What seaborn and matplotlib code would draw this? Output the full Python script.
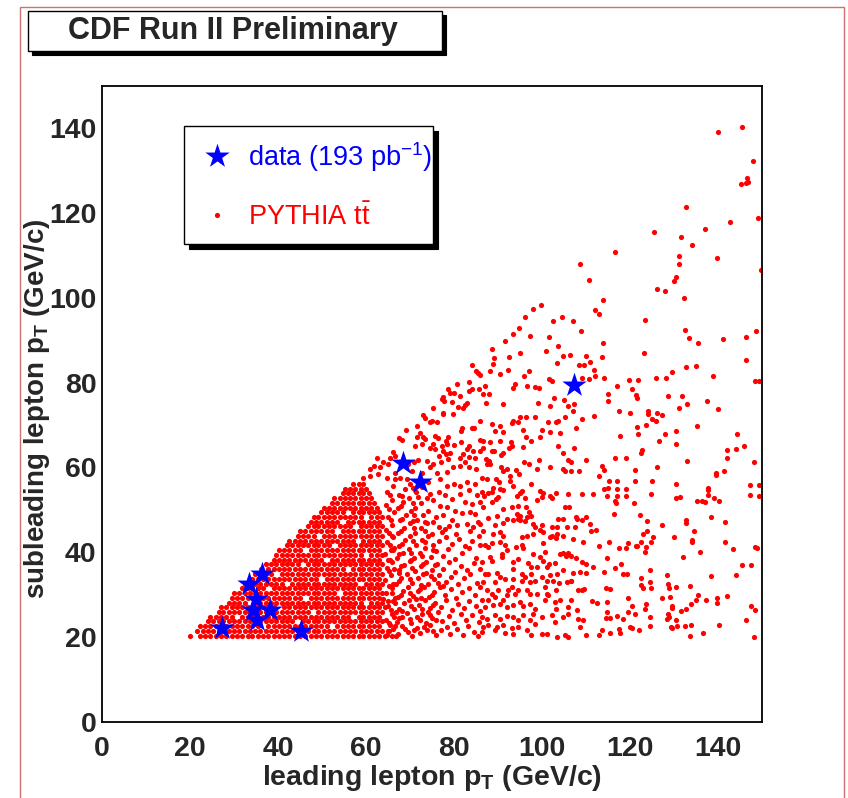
import matplotlib
matplotlib.use("Agg")
import matplotlib.pyplot as plt
from matplotlib.patches import Rectangle
from matplotlib.ticker import MultipleLocator
import seaborn as sns
import pandas as pd

# ---------------- data ----------------
# observed events (blue stars): leading / subleading lepton pT
data_lead = [27.2, 45.2, 33.3, 36.3, 35.0, 34.4, 38.2, 35.2, 68.4, 72.3, 107.3]
data_sub = [22.0, 21.3, 32.6, 34.9, 29.0, 26.3, 26.3, 23.9, 61.1, 56.6, 79.5]

# PYTHIA ttbar: saturated core, one row of leading-pT values per subleading-pT row
core_rows_sub = [20.3, 21.4, 22.5, 23.7, 24.8, 25.9, 27.0, 28.1, 29.3, 30.4, 31.5,
                 32.6, 33.7, 34.9, 36.0, 37.1, 38.2, 39.3, 40.5, 41.6, 42.7, 43.8,
                 44.9, 46.1, 47.2, 48.3, 49.4, 50.5, 51.6, 52.7, 53.9, 55.0, 56.1]
core_rows_lead = [
    [20.0, 22.3, 23.5, 24.6, 25.9, 27.0, 28.2, 29.5, 30.6, 31.8, 33.1, 34.2, 35.4, 36.7, 37.8, 39.0, 40.3, 41.4, 42.6, 43.9, 45.0, 46.2, 47.5, 48.6, 49.8, 51.1, 52.2, 53.4, 54.7, 55.8, 57.0, 58.3, 59.4, 60.6, 61.9, 63.0, 64.3, 65.8],
    [21.6, 22.9, 24.0, 25.2, 26.5, 27.6, 28.8, 30.1, 31.2, 32.4, 33.7, 34.8, 36.0, 37.3, 38.4, 39.6, 40.9, 42.0, 43.2, 44.5, 45.6, 46.8, 48.1, 49.2, 50.4, 51.7, 52.8, 54.0, 55.3, 56.4, 57.6, 58.9, 60.0, 61.2, 62.5, 63.7, 65.0],
    [22.3, 23.5, 24.6, 25.9, 27.0, 28.2, 29.5, 30.6, 31.8, 33.1, 34.2, 35.4, 37.8, 39.0, 40.3, 41.4, 42.6, 43.9, 45.0, 46.2, 47.5, 48.6, 49.8, 51.1, 53.4, 54.7, 55.8, 57.0, 58.3, 59.4, 60.6, 61.9, 63.0, 66.7],
    [24.0, 25.2, 26.5, 27.6, 28.8, 30.1, 31.2, 32.4, 33.7, 34.8, 36.0, 37.3, 38.4, 39.6, 40.9, 42.0, 43.2, 45.6, 46.8, 48.1, 49.2, 50.4, 51.7, 52.8, 54.0, 55.3, 56.4, 57.6, 58.9, 60.0, 61.2, 62.5, 63.7],
    [24.6, 25.9, 27.0, 28.2, 29.5, 31.8, 33.1, 34.2, 35.4, 36.7, 37.8, 39.0, 40.3, 41.4, 42.6, 43.9, 45.0, 46.2, 47.5, 48.6, 49.8, 51.1, 52.2, 53.4, 54.7, 55.8, 58.3, 59.4, 60.6, 61.9, 63.0, 66.3],
    [26.5, 27.6, 28.8, 30.1, 31.2, 32.4, 33.7, 34.8, 36.0, 37.3, 38.4, 39.6, 40.9, 42.0, 43.2, 44.5, 45.6, 46.8, 49.2, 50.4, 51.7, 52.8, 54.0, 55.3, 56.4, 57.6, 58.9, 60.0, 61.2, 62.5, 63.7],
    [27.0, 28.2, 29.5, 30.6, 31.8, 33.1, 34.2, 35.4, 36.7, 37.8, 39.0, 41.4, 42.6, 43.9, 45.0, 46.2, 47.5, 48.6, 49.8, 51.1, 52.2, 53.4, 54.7, 55.8, 57.0, 58.3, 59.4, 60.6, 61.9, 63.0, 64.4],
    [28.8, 30.1, 31.2, 32.4, 34.8, 36.0, 37.3, 38.4, 39.6, 40.9, 42.0, 43.2, 44.5, 45.6, 46.8, 48.1, 49.2, 50.4, 51.7, 52.8, 54.0, 55.3, 56.4, 57.6, 58.9, 61.2, 62.5, 63.7, 66.6],
    [29.5, 30.6, 31.8, 33.1, 34.2, 35.4, 36.7, 37.8, 39.0, 40.3, 41.4, 42.6, 43.9, 45.0, 47.5, 48.6, 49.8, 51.1, 52.2, 53.4, 54.7, 55.8, 57.0, 58.3, 59.4, 60.6, 61.9, 63.0],
    [30.1, 31.2, 32.4, 33.7, 34.8, 36.0, 37.3, 38.4, 39.6, 40.9, 42.0, 43.2, 44.5, 45.6, 46.8, 48.1, 49.2, 50.4, 51.7, 52.8, 55.3, 56.4, 57.6, 58.9, 60.0, 61.2, 62.5, 63.7, 65.9],
    [31.8, 33.1, 34.2, 35.4, 36.7, 39.0, 40.3, 41.4, 42.6, 43.9, 45.0, 46.2, 47.5, 48.6, 49.8, 51.1, 52.2, 53.4, 54.7, 55.8, 57.0, 58.3, 59.4, 60.6, 61.9, 63.0],
    [32.4, 33.7, 34.8, 36.0, 37.3, 38.4, 39.6, 40.9, 43.2, 44.5, 45.6, 46.8, 48.1, 49.2, 50.4, 51.7, 52.8, 54.0, 55.3, 56.4, 57.6, 60.0, 61.2, 62.5, 63.7, 66.2],
    [34.2, 35.4, 36.7, 37.8, 39.0, 40.3, 41.4, 42.6, 43.9, 45.0, 46.2, 47.5, 48.6, 51.1, 52.2, 53.4, 54.7, 55.8, 57.0, 58.3, 59.4, 60.6, 61.9, 63.0],
    [34.8, 36.0, 37.3, 38.4, 40.9, 42.0, 43.2, 44.5, 45.6, 46.8, 48.1, 49.2, 50.4, 51.7, 52.8, 54.0, 55.3, 56.4, 57.6, 58.9, 60.0, 61.2, 62.5, 63.7],
    [36.2, 37.8, 39.0, 40.3, 41.4, 42.6, 43.9, 45.0, 46.2, 47.5, 48.6, 49.8, 51.1, 52.2, 53.4, 54.7, 57.0, 58.3, 59.4, 60.6, 61.9, 63.0, 66.4],
    [37.3, 38.4, 39.6, 40.9, 42.0, 43.2, 44.5, 46.8, 48.1, 49.2, 50.4, 51.7, 52.8, 54.0, 55.3, 56.4, 57.6, 58.9, 60.0, 61.2, 62.5, 63.7],
    [39.0, 40.3, 41.4, 42.6, 43.9, 45.0, 46.2, 47.5, 48.6, 49.8, 52.2, 53.4, 54.7, 55.8, 57.0, 58.3, 59.4, 60.6, 61.9, 63.0, 65.5],
    [39.6, 40.9, 42.0, 43.2, 44.5, 45.6, 46.8, 48.1, 49.2, 50.4, 51.7, 52.8, 54.0, 55.3, 56.4, 57.6, 58.9, 61.2, 62.5, 63.7],
    [40.3, 41.4, 42.6, 43.9, 45.0, 47.5, 48.6, 49.8, 51.1, 52.2, 53.4, 54.7, 55.8, 57.0, 58.3, 59.4, 60.6, 61.9, 63.0, 66.1],
    [42.0, 43.2, 44.5, 45.6, 46.8, 48.1, 49.2, 50.4, 51.7, 54.0, 55.3, 56.4, 57.6, 58.9, 60.0, 61.2, 62.5, 63.7],
    [42.6, 43.9, 45.0, 46.2, 47.5, 48.6, 49.8, 51.1, 52.2, 53.4, 54.7, 55.8, 57.0, 59.4, 60.6, 61.9, 63.0],
    [44.5, 45.6, 46.8, 48.1, 50.4, 51.7, 52.8, 54.0, 55.3, 56.4, 57.6, 58.9, 60.0, 61.2, 62.5, 63.7, 66.0],
    [45.0, 46.2, 47.5, 48.6, 49.8, 51.1, 52.2, 54.7, 55.8, 57.0, 58.3, 59.4, 60.6, 61.9, 63.0],
    [46.8, 48.1, 49.2, 50.4, 51.7, 52.8, 54.0, 55.3, 56.4, 58.9, 60.0, 61.2, 62.5, 63.7],
    [47.5, 48.6, 49.8, 51.1, 52.2, 53.4, 55.8, 57.0, 58.3, 59.4, 60.6, 61.9, 63.0],
    [48.1, 49.2, 50.4, 51.7, 52.8, 54.0, 55.3, 56.4, 57.6, 58.9, 61.2, 62.5, 63.7],
    [49.8, 51.1, 52.2, 53.4, 54.7, 57.0, 58.3, 59.4, 60.6, 61.9, 63.0],
    [50.4, 51.7, 52.8, 54.0, 55.3, 56.4, 57.6, 58.9, 60.0, 61.2, 62.5],
    [52.2, 53.4, 54.7, 55.8, 57.0, 58.3, 59.4, 60.6, 61.9],
    [52.8, 54.0, 55.3, 56.4, 57.6, 58.9, 60.0, 61.2],
    [54.7, 55.8, 57.0, 58.3, 59.4, 60.6],
    [55.3, 56.4, 57.6, 58.9, 60.0],
    [57.0, 58.3, 59.4],
]

# PYTHIA ttbar: medium-density band, leading pT 64-86, subleading pT 20-57
mid_lead = [
    64.8, 66.1, 67.3, 68.2, 69.5, 70.4, 71.6, 72.3, 73.8, 74.6, 75.9, 77.1, 78.4, 79.2, 80.7, 82.0, 83.1, 84.6, 85.5, 65.5,
    64.5, 65.9, 67.0, 68.1, 69.4, 70.2, 71.5, 72.8, 73.6, 75.0, 76.4, 77.3, 78.9, 80.1, 81.5, 82.7, 84.2, 85.6, 66.8, 74.1,
    64.9, 66.2, 67.5, 68.7, 69.8, 70.9, 72.1, 73.4, 74.5, 75.7, 77.0, 78.2, 79.6, 80.8, 82.3, 83.5, 85.0, 86.0, 71.4, 63.9,
    64.6, 65.8, 67.2, 68.3, 69.6, 70.7, 71.9, 73.1, 74.3, 75.5, 76.8, 78.0, 79.3, 80.5, 81.9, 83.4, 84.8, 66.5, 77.6, 72.6,
    64.3, 65.6, 66.9, 68.0, 69.3, 70.5, 71.8, 72.9, 74.2, 75.4, 76.7, 78.1, 79.4, 80.9, 82.2, 83.7, 85.3, 67.6, 73.6,
    64.7, 66.0, 67.4, 68.6, 69.9, 71.1, 72.4, 73.7, 75.0, 76.2, 77.5, 78.8, 80.2, 81.6, 83.0, 84.5, 85.8, 70.3,
    64.4, 65.7, 67.1, 68.4, 69.7, 70.8, 72.2, 73.5, 74.8, 76.0, 77.4, 78.7, 80.3, 81.8, 83.3, 84.9, 66.3,
    64.8, 66.2, 67.6, 68.9, 70.1, 71.4, 72.7, 74.1, 75.3, 76.7, 78.2, 79.6, 81.1, 82.6, 84.1, 85.6,
    64.5, 65.9, 67.3, 68.6, 69.9, 71.2, 72.5, 73.9, 74.9, 77.2, 78.9, 80.4, 83.6, 70.6,
    64.9, 66.3, 67.7, 69.0, 70.3, 71.6, 72.9, 74.2, 75.8, 73.5,
    64.6, 65.9, 67.2, 68.5, 69.8, 71.1, 72.5, 73.8, 71.9,
    64.8, 66.1, 67.4, 68.8, 70.1, 71.4, 72.8, 74.0, 66.7, 69.3,
    78.4, 79.9, 81.4, 82.9, 84.8, 81.4, 83.3, 85.2, 82.5, 84.0, 85.9, 83.7, 84.8, 81.8, 82.9, 84.4,
    85.5, 80.6, 76.5, 78.0, 79.5, 74.6, 75.3, 76.8, 78.4, 80.2, 77.6, 79.5, 75.3, 76.5, 78.0, 76.8,
    65.3, 66.9, 68.9, 70.9, 73.1, 75.3, 65.2, 67.6, 69.9, 72.3, 74.6, 76.0, 65.6, 68.1, 70.3, 72.8,
    75.2, 65.1, 67.9, 70.1, 72.3, 74.9, 76.3, 65.3, 67.5, 70.0, 72.4, 74.8, 65.3, 67.9, 70.4, 72.9,
    75.6, 65.1, 67.6, 70.2, 72.8, 75.3, 65.5, 68.2, 70.7, 73.5, 65.2, 68.0, 70.9, 73.3, 65.6, 68.2,
    71.0, 65.3, 68.0, 70.6, 65.5, 68.1, 70.6,
]
mid_sub = [
    20.4, 21.9, 20.8, 22.6, 21.2, 20.3, 22.1, 20.9, 21.7, 22.8, 20.5, 21.6, 22.4, 20.7, 21.9, 20.4, 22.5, 21.1, 20.2, 22.9,
    24.1, 25.3, 23.6, 24.8, 25.7, 23.4, 24.6, 25.5, 23.3, 24.4, 25.8, 23.7, 24.9, 23.2, 25.4, 24.0, 25.1, 23.6, 25.9, 26.0,
    27.2, 28.4, 26.6, 27.9, 28.8, 26.5, 27.6, 28.7, 26.8, 28.1, 27.0, 28.6, 26.4, 27.8, 26.9, 28.5, 27.3, 26.2, 29.0, 28.9,
    30.3, 31.5, 29.5, 30.9, 31.8, 29.7, 30.8, 31.9, 29.4, 30.6, 31.7, 29.9, 31.2, 29.3, 30.7, 31.6, 29.8, 29.2, 32.0, 29.2,
    33.4, 34.6, 32.5, 33.8, 34.9, 32.7, 33.9, 34.8, 32.4, 33.6, 34.7, 32.9, 34.1, 32.6, 33.9, 34.8, 32.8, 35.0, 35.1,
    36.3, 37.6, 35.8, 36.9, 37.9, 35.6, 36.7, 37.8, 35.9, 37.1, 36.0, 37.7, 35.4, 36.8, 35.7, 37.4, 36.1, 38.1,
    39.5, 40.6, 38.7, 39.9, 40.8, 38.6, 39.7, 40.9, 38.9, 40.2, 39.0, 40.7, 38.4, 39.8, 40.9, 38.6, 41.0,
    42.4, 43.6, 41.5, 42.8, 43.9, 41.7, 42.9, 43.8, 41.6, 42.7, 43.5, 41.9, 43.2, 41.4, 42.6, 43.8,
    45.3, 46.5, 44.6, 45.8, 46.9, 44.5, 45.7, 46.8, 44.4, 44.8, 46.2, 44.3, 44.9, 47.3,
    48.3, 49.5, 47.6, 48.8, 49.8, 47.5, 48.7, 49.6, 48.4, 47.2,
    51.2, 52.4, 50.5, 51.8, 52.9, 50.4, 51.6, 52.7, 53.0,
    54.3, 55.5, 53.6, 54.8, 56.2, 54.1, 55.4, 56.6, 57.2, 57.3,
    55.7, 56.1, 55.7, 56.5, 56.1, 53.8, 54.6, 53.4, 51.8, 51.4, 51.8, 49.5, 49.1, 49.2, 46.7, 45.9,
    47.1, 46.3, 54.2, 53.4, 52.6, 53.8, 52.2, 51.0, 50.6, 49.8, 48.7, 47.5, 47.1, 45.9, 45.5, 57.3,
    21.3, 20.3, 21.8, 21.6, 22.3, 21.3, 23.4, 24.5, 24.2, 23.9, 25.2, 24.0, 26.4, 26.2, 27.3, 26.6,
    27.5, 28.4, 29.9, 30.3, 31.2, 29.9, 32.8, 32.1, 33.2, 33.7, 32.2, 34.3, 35.6, 36.7, 36.2, 37.1,
    36.9, 38.2, 39.5, 39.9, 39.0, 40.4, 41.8, 41.9, 42.6, 42.4, 44.6, 44.9, 45.6, 45.0, 47.5, 47.8,
    48.7, 50.2, 50.9, 51.5, 53.4, 53.2, 55.1,
]

# PYTHIA ttbar: upper diagonal edge, leading pT 59-104 (subleading pT > 57)
edge_lead = [
    84.2, 85.1, 85.9, 85.4, 83.3, 80.6, 78.7, 79.1, 79.9, 83.3, 84.0, 85.7, 81.4, 77.6, 77.2, 77.7,
    79.5, 82.9, 82.5, 80.8, 75.3, 77.6, 77.4, 79.7, 82.0, 73.0, 73.5, 74.9, 74.5, 76.1, 81.8, 84.6,
    84.0, 85.8, 69.1, 71.5, 72.3, 72.9, 71.5, 73.4, 81.7, 81.7, 75.7, 76.4, 78.7, 78.2, 78.3, 79.9,
    75.3, 77.2, 75.7, 74.5, 72.7, 71.1, 67.5, 68.1, 85.9, 83.5, 82.9, 84.4, 82.1, 83.4, 85.9, 77.4,
    78.2, 79.2, 76.7, 78.7, 81.4, 82.5, 84.8, 66.2, 66.6, 65.5, 62.4, 63.9, 65.1, 63.2, 61.8, 60.9,
    68.1, 69.6, 70.8, 71.9, 73.8, 75.3, 77.0, 79.7, 81.4, 83.3, 85.1, 74.5, 76.1, 78.3, 72.7, 70.4,
    59.4, 60.9, 62.8, 64.7, 66.6, 67.7,
    93.4, 91.6, 94.8, 99.8, 98.0, 95.0, 89.1, 92.5, 101.6, 102.5, 100.9, 97.3, 103.6, 88.6, 96.1,
]
edge_sub = [
    84.1, 82.7, 81.7, 82.3, 80.1, 79.6, 78.4, 77.6, 77.5, 78.0, 78.4, 78.6, 76.8, 76.5, 76.1, 75.7,
    75.5, 75.3, 74.7, 74.3, 74.0, 72.9, 72.5, 72.7, 74.1, 72.4, 71.7, 71.0, 70.6, 70.6, 69.3, 69.4,
    69.2, 71.0, 68.8, 69.8, 68.2, 67.2, 67.2, 66.6, 68.6, 66.1, 67.3, 67.0, 67.2, 66.3, 65.6, 65.3,
    65.6, 65.0, 64.3, 64.7, 65.5, 65.1, 66.9, 66.5, 66.4, 65.1, 64.3, 63.9, 63.1, 62.5, 63.9, 63.9,
    63.1, 63.3, 62.7, 61.9, 62.3, 61.2, 62.3, 63.7, 62.7, 62.3, 62.3, 61.2, 60.8, 60.0, 60.4, 59.6,
    61.2, 60.8, 61.2, 61.7, 61.5, 60.9, 61.2, 60.0, 60.4, 60.0, 59.6, 60.0, 58.8, 59.0, 58.8, 59.2,
    57.6, 58.0, 58.4, 57.6, 58.6, 57.5,
    91.5, 89.8, 92.9, 98.3, 97.3, 87.0, 85.8, 86.0, 90.8, 94.5, 87.5, 91.0, 88.6, 87.9, 95.5,
]

# PYTHIA ttbar: leading pT 86-112
band_lead = [
    88.9, 88.2, 92.3, 95.8, 97.1, 93.9, 93.5, 90.4, 87.0, 86.7, 88.0, 87.2, 91.1, 96.5, 98.4, 99.4,
    101.6, 102.2, 103.3, 111.9, 112.0, 110.7, 109.0, 102.7, 105.0, 105.8, 107.3, 107.0, 101.8, 99.2,
    111.9, 109.2, 107.7, 105.2, 103.7, 103.2, 104.1, 101.8, 99.9, 99.5, 98.4, 96.4, 95.1, 94.6, 93.5, 93.1,
    95.7, 96.4, 97.6, 92.9, 93.1, 92.6, 95.7, 90.4, 89.3, 91.1, 88.7, 90.4, 88.2, 86.5, 86.5, 88.6,
    89.1, 91.1, 90.6, 87.2, 88.0, 103.7, 104.8, 107.3, 105.8, 106.5, 99.4, 95.9, 97.0, 110.0, 101.4,
    90.6, 92.0, 91.2, 94.1, 94.8, 92.7, 87.4, 88.2, 86.3, 87.4, 89.5, 90.3, 92.7, 93.5, 95.4, 95.1,
    94.4, 88.9, 88.6, 87.8, 86.8, 86.3, 90.4, 91.1, 90.1, 89.5, 86.7, 88.6, 91.1, 93.1, 94.6, 94.4,
    95.0, 96.1, 96.4, 97.1, 97.6, 97.6, 98.8, 100.3, 101.8, 102.2, 103.2, 99.5, 100.1, 98.8, 101.8, 104.8,
    105.2, 106.7, 108.5, 105.8, 109.2, 111.7, 105.2, 106.2, 103.7, 104.8, 102.3, 103.3, 107.7, 107.9, 109.0, 110.0,
    105.6, 107.6, 110.9, 111.1, 112.3, 92.0, 91.2, 89.3, 89.7, 87.8, 93.5, 94.6, 95.0, 98.0, 98.4, 99.9,
    100.3, 99.5, 96.1, 96.5, 85.9, 86.7,
    90.4, 91.2, 88.9, 88.6, 87.0, 87.8, 85.9, 90.4, 91.6, 92.0, 90.8, 94.2, 95.4, 95.6, 95.4, 96.5,
    98.0, 100.3, 101.8, 102.2, 103.3, 103.2, 104.8, 107.1, 98.0, 99.5, 100.7, 100.3, 104.1, 104.8, 105.4, 106.0,
    106.5, 107.7, 109.4, 109.0, 110.1, 111.7, 108.6, 110.0, 107.1, 106.5, 104.8, 103.3, 102.9, 101.7, 101.1, 96.9,
    97.6, 98.9, 93.5, 94.6, 93.5, 90.8, 88.6, 88.2, 86.3, 87.0, 87.8, 89.7, 90.4, 91.6, 93.5, 95.4,
    96.1, 97.6, 95.4, 97.3, 98.4, 99.9, 101.1, 101.8, 102.6, 100.7, 101.1, 103.2, 103.9, 105.6, 106.7, 108.2,
    109.0, 109.5, 86.7, 87.4, 85.9, 89.3, 90.1, 88.6, 92.3, 93.1, 93.9, 94.6, 96.5, 97.3, 98.8, 106.7,
    107.9, 106.0, 104.1, 111.4,
    86.3, 87.8, 89.3, 91.2, 92.0, 87.0, 88.9, 90.4, 92.0, 93.5, 95.0, 95.7, 97.3, 98.4, 100.7, 101.4,
    102.9, 103.2, 86.3, 87.4, 89.3, 90.4, 92.0, 93.5, 94.6, 95.7, 97.3, 98.0, 99.9, 102.2, 102.9, 104.8,
    106.0, 108.2, 109.4, 86.7, 87.8, 89.7, 91.2, 93.1, 94.6, 96.5, 98.4, 99.9, 101.1, 103.3, 105.2, 106.0,
    108.6, 110.1, 86.3, 89.3, 91.6, 93.5, 97.6,
]
band_sub = [
    84.3, 82.7, 83.1, 81.6, 82.7, 79.8, 78.8, 82.0, 79.2, 77.3, 77.3, 75.3, 74.9, 79.2, 79.0, 78.8,
    80.8, 80.4, 84.7, 82.9, 81.6, 80.8, 81.0, 76.3, 75.8, 74.5, 74.9, 73.3, 74.5, 75.1,
    72.2, 71.4, 69.4, 71.9, 71.0, 70.6, 68.2, 68.4, 68.8, 67.1, 71.9, 71.9, 71.9, 70.6, 71.0, 70.4,
    68.9, 67.1, 66.3, 65.9, 65.1, 64.5, 64.9, 69.8, 68.6, 68.4, 70.2, 66.3, 65.9, 66.3, 64.5, 63.9,
    63.9, 63.3, 62.9, 62.0, 61.6, 65.1, 63.5, 64.5, 61.7, 61.3, 61.7, 61.2, 60.8, 61.8, 70.6,
    60.0, 59.6, 59.2, 59.4, 58.4, 58.0, 60.8, 60.8, 57.6, 57.3, 57.3, 56.5, 56.9, 55.5, 54.5, 53.9,
    53.3, 55.1, 54.3, 53.9, 53.3, 54.1, 54.9, 54.7, 53.1, 52.5, 50.7, 51.8, 50.2, 50.7, 50.9, 49.0,
    48.6, 52.8, 50.6, 49.4, 48.6, 56.2, 59.6, 53.9, 53.3, 52.8, 53.9, 54.4, 53.1, 52.3, 60.2, 59.6,
    59.2, 59.2, 59.2, 53.7, 53.7, 53.7, 50.6, 50.6, 47.9, 47.9, 46.0, 46.0, 48.4, 47.9, 47.6, 48.4,
    45.9, 45.9, 46.7, 45.1, 45.3, 47.8, 46.8, 46.5, 48.6, 48.0, 47.5, 47.9, 47.5, 46.7, 45.9, 46.5,
    44.7, 45.3, 47.3, 48.2, 46.7, 45.1,
    44.7, 43.7, 44.3, 42.1, 41.6, 41.2, 41.6, 42.4, 41.6, 40.4, 39.6, 41.2, 41.6, 41.0, 43.5, 43.7,
    44.3, 42.1, 43.5, 43.7, 44.2, 43.3, 43.7, 43.1, 39.6, 38.8, 40.0, 38.0, 39.6, 39.8, 39.2, 39.8,
    39.0, 38.7, 42.4, 37.6, 37.3, 36.5, 35.3, 35.1, 35.1, 33.3, 35.7, 34.9, 37.5, 37.3, 36.5, 37.4,
    36.5, 36.5, 37.6, 38.4, 36.1, 38.8, 38.0, 38.8, 37.6, 34.9, 34.9, 35.1, 34.1, 33.7, 33.7, 34.9,
    34.1, 34.9, 33.3, 32.9, 33.3, 34.1, 33.3, 34.5, 33.3, 31.8, 30.2, 31.0, 32.7, 32.9, 33.3, 31.0,
    31.0, 31.4, 32.9, 31.0, 31.8, 32.9, 31.0, 30.2, 31.0, 31.8, 30.2, 31.0, 31.0, 30.2, 30.2, 28.6,
    26.4, 27.1, 28.8, 28.5,
    28.6, 28.8, 29.4, 28.6, 29.8, 27.1, 27.5, 27.8, 27.1, 27.5, 28.2, 27.2, 27.8, 26.7, 28.6, 29.8,
    28.2, 26.7, 24.7, 24.3, 25.1, 24.3, 24.9, 24.7, 23.9, 25.1, 23.9, 25.5, 24.7, 25.1, 23.5, 24.7,
    25.5, 24.3, 23.9, 22.4, 22.8, 22.4, 22.8, 22.0, 22.4, 21.6, 23.1, 20.8, 20.8, 20.0, 20.4, 20.0,
    22.4, 20.4, 21.2, 21.6, 21.0, 20.8, 20.5,
]

# PYTHIA ttbar: sparse tail, leading pT > 104 (upper) and > 112 (lower right)
tail_lead = [
    140.0, 145.4, 148.0, 146.7, 146.9, 145.2, 146.4, 132.7, 149.1, 142.7, 137.0, 125.5, 131.7, 134.2, 116.7, 131.1,
    131.1, 139.8, 149.8, 108.6, 110.7, 130.5, 130.1, 126.1, 128.0, 132.2, 113.9, 112.0, 113.0, 104.5, 107.1, 123.3,
    108.9, 132.4, 148.7, 133.3, 135.5, 141.2, 146.3, 113.9, 104.8, 106.4, 109.9, 113.7, 123.1, 111.0, 108.3, 109.5,
    146.4, 132.7, 134.9,
    129.5, 138.9, 125.8, 128.2, 121.8, 119.8, 114.0, 117.1, 120.5, 148.4, 149.4, 114.9, 115.1, 121.4, 121.6, 128.6,
    131.9, 131.1, 133.0, 137.6, 140.1, 117.6, 120.1, 124.0, 124.2, 126.1, 127.3, 125.0, 125.8, 123.6, 121.7, 121.9,
    117.8, 128.0, 130.5, 135.2, 126.5, 130.4, 144.3, 142.1, 144.2, 145.9, 122.8, 122.5, 119.2, 116.7, 132.9, 142.0,
    148.2, 126.1, 121.1, 113.7, 114.2, 139.5, 139.6, 141.3, 113.0, 115.2, 117.0, 121.1, 125.0, 130.5, 147.3, 149.4,
    114.0, 115.1, 117.0, 119.0, 114.8, 117.0, 119.2, 124.8, 130.5, 131.4, 137.8, 137.8, 137.8, 139.2, 140.3, 147.3,
    149.4, 135.2, 136.4, 137.1, 116.7, 116.9, 120.8, 116.4, 122.3, 123.9, 127.3, 132.7, 132.8, 138.3, 141.7, 123.8,
    123.0, 125.2, 130.1, 134.6, 134.1, 134.2, 124.7, 122.6, 121.4, 121.7, 123.6, 123.5, 119.5, 119.0, 117.6, 115.3,
    112.9, 135.9, 141.7, 143.3, 148.3, 148.9, 132.0, 114.7, 145.5, 147.6, 138.3, 144.0, 124.5, 118.0, 116.5, 114.2,
    118.3, 119.3, 128.3, 122.4, 124.6, 128.7, 128.9, 130.4, 133.6, 122.6, 123.0, 124.8, 114.5, 115.4, 135.5, 135.1,
    137.3, 139.7, 139.8, 142.0, 127.3, 129.0, 129.6, 129.5, 133.8, 131.6, 132.7, 120.4, 123.6, 123.3, 119.5, 119.5,
    114.7, 112.6, 114.8, 114.5, 115.5, 117.0, 118.5, 121.2, 124.6, 128.6, 128.8, 128.4, 130.4, 129.3, 129.6, 130.7,
    132.6, 133.9, 140.2, 146.4, 147.6, 148.5, 148.2, 133.6, 136.7, 124.5, 122.0, 120.0, 120.4, 117.6, 117.7, 113.7,
    113.0, 115.4,
]
tail_sub = [
    139.2, 140.4, 132.4, 128.4, 127.4, 126.8, 127.0, 121.5, 118.8, 118.0, 116.2, 115.5, 114.4, 112.4, 110.8, 109.8,
    107.9, 109.3, 106.7, 107.9, 104.3, 104.9, 104.1, 102.2, 101.6, 100.0, 99.5, 97.1, 96.3, 95.5, 94.6, 94.8,
    92.3, 92.4, 92.3, 90.5, 89.4, 90.2, 90.8, 89.4, 86.4, 86.6, 86.4, 86.0, 86.9, 84.8, 84.2, 84.2,
    85.4, 83.8, 83.9,
    82.5, 81.6, 81.1, 81.1, 80.6, 80.6, 81.1, 79.3, 78.4, 80.5, 80.5, 77.3, 75.6, 77.0, 76.4, 76.9,
    76.9, 74.1, 74.9, 75.6, 73.9, 73.4, 72.9, 73.3, 72.7, 72.9, 72.3, 71.5, 71.0, 70.0, 69.5, 68.0,
    67.5, 68.0, 68.6, 69.8, 66.3, 65.6, 68.0, 64.2, 64.3, 65.0, 64.1, 63.5, 62.3, 62.2, 61.6, 62.2,
    61.3, 60.0, 59.5, 60.4, 59.5, 58.7, 58.1, 59.2, 58.0, 56.8, 56.8, 56.8, 56.8, 56.2, 55.9, 55.9,
    54.8, 55.2, 54.8, 54.8, 53.3, 53.3, 53.3, 53.8, 52.9, 53.1, 55.1, 54.6, 53.6, 52.9, 52.1, 53.4,
    53.3, 52.1, 52.1, 51.9, 52.1, 51.5, 51.5, 49.0, 48.7, 47.4, 46.3, 47.7, 46.9, 48.3, 47.1, 45.0,
    44.2, 43.5, 43.6, 45.0, 42.9, 42.5, 42.5, 42.3, 41.4, 41.4, 41.3, 40.1, 42.2, 41.1, 41.1, 42.5,
    41.4, 40.1, 42.4, 40.7, 41.3, 41.1, 38.8, 38.7, 36.9, 37.0, 34.3, 34.5, 35.8, 37.2, 36.3, 35.3,
    34.9, 34.9, 34.5, 33.8, 33.0, 32.5, 31.5, 31.9, 32.1, 32.3, 31.5, 31.5, 31.5, 31.2, 30.0, 28.7,
    28.8, 29.3, 28.1, 29.6, 29.2, 29.5, 27.4, 26.8, 27.7, 26.2, 26.6, 27.4, 27.7, 26.5, 29.3, 25.9,
    28.3, 28.0, 25.8, 24.4, 24.5, 24.9, 24.3, 25.5, 24.6, 25.5, 24.7, 24.2, 24.1, 22.4, 22.0, 22.6,
    22.6, 22.7, 22.9, 24.1, 27.3, 26.4, 20.1, 20.3, 20.9, 22.5, 21.7, 22.4, 22.1, 21.9, 20.9, 21.7,
    20.4, 20.9,
]

# ---------------- assemble tables ----------------
core_lead = [x for xs in core_rows_lead for x in xs]
core_sub = [y for y, xs in zip(core_rows_sub, core_rows_lead) for _ in xs]
mc = pd.DataFrame({
    "lead": core_lead + mid_lead + edge_lead + band_lead + tail_lead,
    "sub": core_sub + mid_sub + edge_sub + band_sub + tail_sub,
})
obs = pd.DataFrame({"lead": data_lead, "sub": data_sub})

# ---------------- style ----------------
sns.set_style("white")
plt.rcParams.update({
    "mathtext.fontset": "custom",
    "mathtext.rm": "Liberation Sans",
    "mathtext.it": "Liberation Sans:italic",
    "mathtext.bf": "Liberation Sans:bold",
    "axes.linewidth": 1.3,
    "axes.edgecolor": "black",
})
plt.rcParams["font.family"] = ["Liberation Sans", "DejaVu Sans"]

W, H = 848, 798
fig = plt.figure(figsize=(W / 100, H / 100), dpi=100)
fig.patch.set_facecolor("white")
ax = fig.add_axes([102 / W, 1 - 721.7 / H, 660 / W, 635.7 / H])

sns.scatterplot(data=mc, x="lead", y="sub", ax=ax, color="#ff0000", s=14,
                linewidth=0, marker="o", legend=False,
                label=r"PYTHIA t$\bar{\mathrm{t}}$", zorder=2)
sns.scatterplot(data=obs, x="lead", y="sub", ax=ax, color="#0000ff", s=340,
                linewidth=0, marker="*", legend=False,
                label=r"data (193 pb$^{\mathrm{-1}}$)", zorder=3)

ax.set_xlim(0, 150)
ax.set_ylim(0, 150)
for axis in (ax.xaxis, ax.yaxis):
    axis.set_major_locator(MultipleLocator(20))
    axis.set_minor_locator(MultipleLocator(5))
ax.tick_params(which="both", direction="in", top=False, right=False,
               width=0.8, color="black")
ax.tick_params(which="major", length=13.7)
ax.tick_params(which="minor", length=6.8)
ax.tick_params(axis="x", which="major", pad=10, labelsize=20.5)
ax.tick_params(axis="y", which="major", pad=4, labelsize=20.5)
for lab in ax.get_xticklabels() + ax.get_yticklabels():
    lab.set_fontweight("bold")
for sp in ax.spines.values():
    sp.set_visible(True)
    sp.set_color("black")
    sp.set_linewidth(1.3)

ax.set_xlabel(r"leading lepton p$_{\mathbf{T}}$ (GeV/c)", fontsize=20.5, fontweight="bold")
ax.set_ylabel(r"subleading lepton p$_{\mathbf{T}}$ (GeV/c)", fontsize=20, fontweight="bold")
ax.xaxis.set_label_coords(0.5, -0.089)
ax.xaxis.label.set_va("center")
ax.yaxis.set_label_coords(-0.099, 0.492)
ax.yaxis.label.set_va("center")

# title box with shadow
fig.add_artist(Rectangle((32 / W, 1 - 55 / H), 414 / W, 40 / H, transform=fig.transFigure,
                         facecolor="black", edgecolor="black", lw=0.8, zorder=10))
fig.add_artist(Rectangle((28 / W, 1 - 51 / H), 414 / W, 40 / H, transform=fig.transFigure,
                         facecolor="white", edgecolor="black", lw=1.0, zorder=11))
fig.text(233 / W, 1 - 31 / H, "CDF Run II Preliminary", ha="center", va="center",
         fontsize=22, fontweight="bold", zorder=12)

# legend box with shadow
fig.add_artist(Rectangle((189 / W, 1 - 249 / H), 249 / W, 118 / H, transform=fig.transFigure,
                         facecolor="black", edgecolor="black", lw=0.8, zorder=10))
fig.add_artist(Rectangle((184 / W, 1 - 244 / H), 249 / W, 118 / H, transform=fig.transFigure,
                         facecolor="white", edgecolor="black", lw=1.0, zorder=11))
handles, labels = ax.get_legend_handles_labels()
order = [labels.index(l) for l in labels if l.startswith("data")] + \
        [labels.index(l) for l in labels if l.startswith("PYTHIA")]
leg = fig.legend([handles[i] for i in order], [labels[i] for i in order],
                 loc="upper left", bbox_to_anchor=(203.5 / W, 1 - 140 / H),
                 frameon=False, fontsize=19.5, handlelength=1.0, handletextpad=0.64,
                 labelspacing=1.1, borderpad=0, borderaxespad=0,
                 scatterpoints=1, scatteryoffsets=[0.5])
leg.set_zorder(12)
for t, c in zip(leg.get_texts(), ["#0000ff", "#ff0000"]):
    t.set_color(c)

# canvas border
fig.add_artist(Rectangle((20 / W, -0.05), 824 / W, 1.05 - 7 / H, transform=fig.transFigure,
                         facecolor="none", edgecolor="#d07070", lw=1.0, zorder=20))

fig.savefig("out.png", dpi=100, facecolor="white")
